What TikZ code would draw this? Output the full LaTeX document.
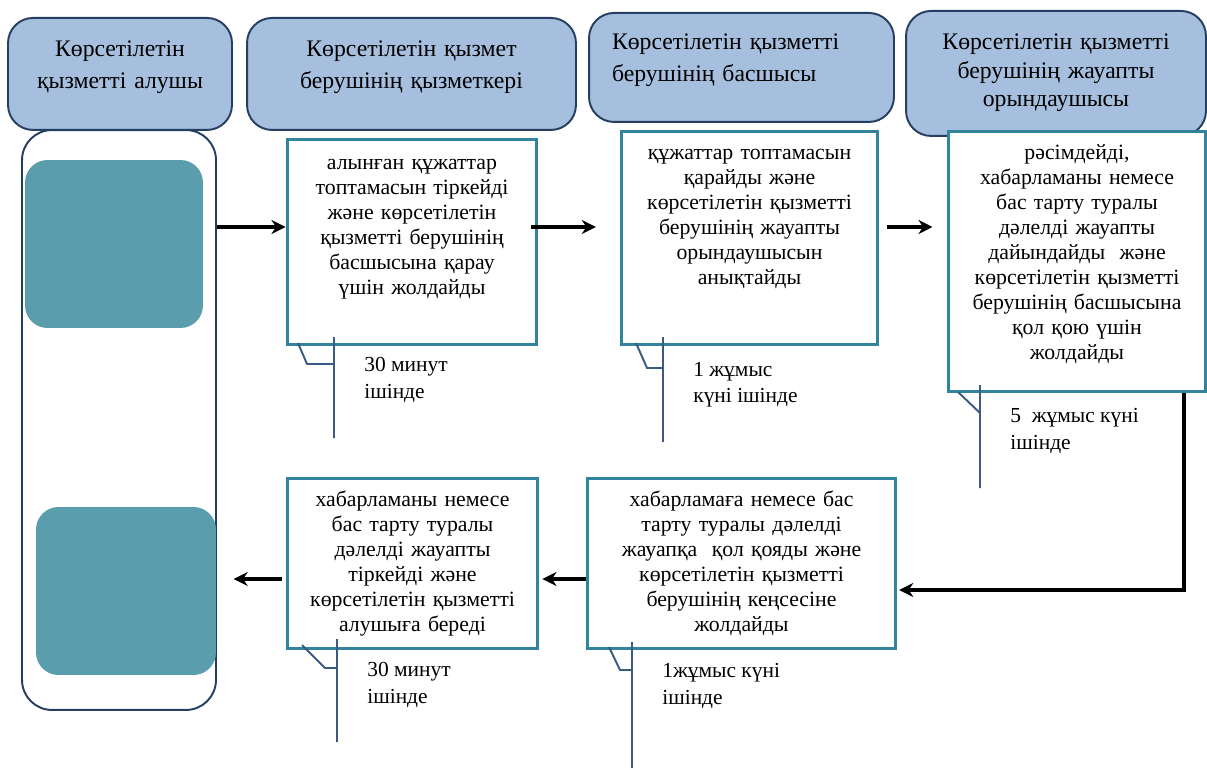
\documentclass[tikz,border=0pt]{standalone}
\usepackage{fontspec}
\setmainfont{Liberation Serif}
\usepackage{tikz}
\usetikzlibrary{arrows.meta}
\definecolor{headColor}{HTML}{A7BFDE}
\definecolor{headLineColor}{HTML}{243F60}
\definecolor{stepLineColor}{HTML}{31849B}
\definecolor{receiverColor}{HTML}{5A9DAC}
\definecolor{timeLineColor}{HTML}{3B5B84}
\tikzset{
  headBox/.style={draw=headLineColor, line width=1.1pt, fill=headColor, rounded corners=0.5cm,
    anchor=north, inner xsep=0pt, inner ysep=0pt, align=center, font=\fontsize{13.5}{18.2}\selectfont},
  stepBox/.style={draw=stepLineColor, line width=1.7pt, fill=white, anchor=north,
    inner xsep=0pt, inner ysep=0pt, align=center, font=\fontsize{12.4}{14.2}\selectfont},
  receiverBox/.style={fill=receiverColor, rounded corners=0.45cm, minimum height=3.36cm},
  timeLine/.style={draw=timeLineColor, line width=1.1pt},
  timeText/.style={anchor=west, inner sep=0pt, align=left, font=\fontsize{12.2}{15}\selectfont},
  flowArrow/.style={line width=1.8pt, -{Stealth[length=8pt,width=8pt]}}
}

\begin{document}
\begin{tikzpicture}[x=0.02cm, y=-0.02cm]
          \useasboundingbox (0,0) rectangle (1207,770);

          \node[draw=headLineColor, line width=1.1pt, rounded corners=0.6cm, minimum width=3.88cm, minimum height=11.6cm] (lane) at (119,420) {};
          \node[receiverBox, minimum width=3.56cm] (recvTop) at (114,244) {};
          \node[receiverBox, minimum width=3.6cm] (recvBottom) at (126,591) {};

          \node[headBox, text width=4.48cm, text height=0.78cm, text depth=1.46cm] (recvHead) at (120,17) {Көрсетілетін\\қызметті алушы};
          \node[headBox, text width=6.58cm, text height=0.78cm, text depth=1.46cm] (staffHead) at (411.5,17) {Көрсетілетін қызмет\\берушінің қызметкері};
          \node[headBox, align=left, inner xsep=0.46cm, text width=5.18cm, text height=0.74cm, text depth=1.44cm] (chiefHead) at (741.5,12) {Көрсетілетін қызметті\\берушінің басшысы};
          \node[headBox, text width=6cm, text height=0.78cm, text depth=1.72cm, font=\fontsize{13.5}{16.2}\selectfont] (execHead) at (1056,10) {Көрсетілетін қызметті\\берушінің жауапты\\орындаушысы};

          \node[stepBox, text width=5cm, text height=0.6cm, text depth=3.5cm] (regStep) at (412,138) {алынған құжаттар\\топтамасын тіркейді\\және көрсетілетін\\қызметті берушінің\\басшысына қарау\\үшін жолдайды};
          \node[stepBox, text width=5.14cm, text height=0.56cm, text depth=3.7cm] (reviewStep) at (749.5,130) {құжаттар топтамасын\\қарайды және\\көрсетілетін қызметті\\берушінің жауапты\\орындаушысын\\анықтайды};
          \node[stepBox, text width=5.16cm, text height=0.56cm, text depth=4.64cm] (draftStep) at (1077,130) {рәсімдейді,\\хабарламаны немесе\\бас тарту туралы\\дәлелді жауапты\\дайындайды\ \ және\\көрсетілетін қызметті\\берушінің басшысына\\қол қою үшін\\жолдайды};
          \node[stepBox, text width=5.02cm, text height=0.56cm, text depth=2.84cm] (issueStep) at (412.5,477) {хабарламаны немесе\\бас тарту туралы\\дәлелді жауапты\\тіркейді және\\көрсетілетін қызметті\\алушыға береді};
          \node[stepBox, text width=6.18cm, text height=0.56cm, text depth=2.84cm] (signStep) at (741.5,477) {хабарламаға немесе бас\\тарту туралы дәлелді\\жауапқа\ \ қол қояды және\\көрсетілетін қызметті\\берушінің кеңсесіне\\жолдайды};

          \draw[timeLine] (298,343) -- (307,364) -- (334,364) (334,337) -- (334,438);
          \node[timeText] (regTime) at (364,380) {30 минут\\ішінде};
          \draw[timeLine] (636,343) -- (647,368) -- (663,368) (663,337) -- (663,442);
          \node[timeText] (reviewTime) at (693,385) {1 жұмыс\\күні ішінде};
          \draw[timeLine] (958,392) -- (980,413) (980,385) -- (980,488);
          \node[timeText] (draftTime) at (1010,431) {5\ \ жұмыс күні\\ішінде};
          \draw[timeLine] (302,645) -- (325,668) -- (337,668) (337,639) -- (337,742);
          \node[timeText] (issueTime) at (367,685) {30 минут\\ішінде};
          \draw[timeLine] (609,647) -- (620,670) -- (632,670) (632,642) -- (632,768);
          \node[timeText] (signTime) at (662,686) {1жұмыс күні\\ішінде};

          \draw[flowArrow] (lane.east |- 0,227) -- (regStep.west |- 0,227);
          \draw[flowArrow, shorten <=-4pt, shorten >=13.5pt] (regStep.east |- 0,227) -- (reviewStep.west |- 0,227);
          \draw[flowArrow, shorten <=4.5pt, shorten >=8pt] (reviewStep.east |- 0,227) -- (draftStep.west |- 0,227);
          \draw[flowArrow, shorten >=1pt] (draftStep.south -| 1184,0) |- (signStep.east |- 0,590);
          \draw[flowArrow, shorten >=1.7pt] (signStep.west |- 0,579) -- (issueStep.east |- 0,579);
          \draw[flowArrow, shorten <=2pt, shorten >=9.5pt] (issueStep.west |- 0,579) -- (lane.east |- 0,579);
        \end{tikzpicture}
\end{document}
